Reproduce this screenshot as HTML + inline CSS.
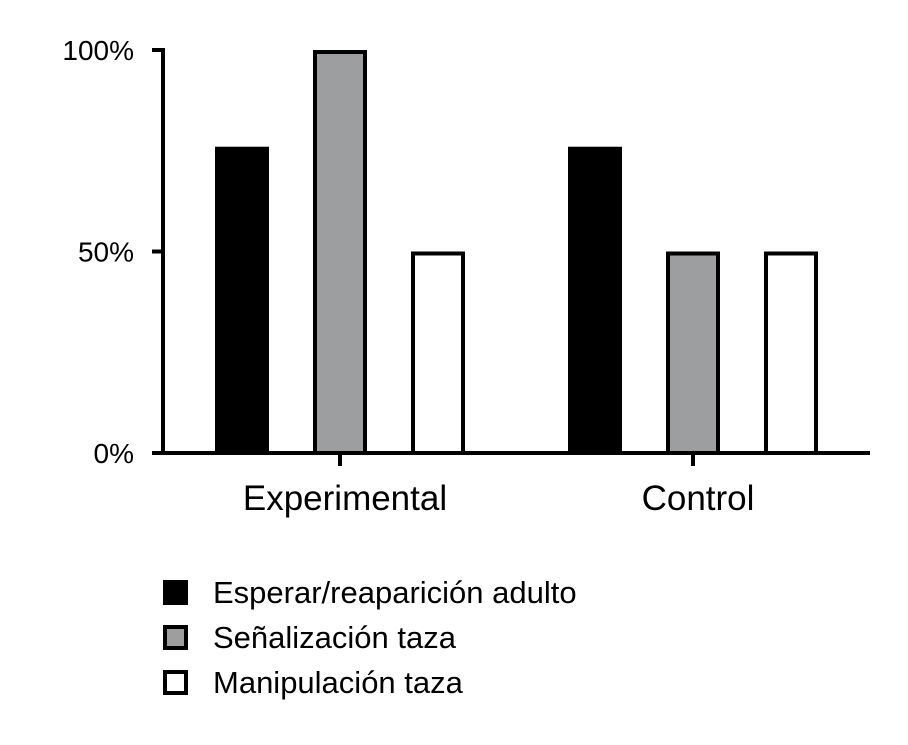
<!DOCTYPE html>
<html><head><meta charset="utf-8"><style>
body{margin:0;background:#fff;}
svg{display:block;font-family:"Liberation Sans",sans-serif;}
</style></head><body>
<svg id="chart" width="908" height="745">
<g id="bars"></g>
<g id="axes"></g>
<g id="legend"></g>
</svg>
<script>
const categories = ["Experimental","Control"];
const seriesNames = ["Esperar/reaparición adulto","Señalización taza","Manipulación taza"];
const seriesA = [76, 76];
const seriesB = [100, 50];
const seriesC = [50, 50];
const yTicks = [0, 50, 100];
const yTickLabels = ["0%","50%","100%"];

const NS="http://www.w3.org/2000/svg";
const fills=["#000","#9d9e9f","#fff"];
const y0=453, y1=50;
function yScale(v){return y0-(v/100)*(y0-y1);}
const catCenters=[340,693];
function xScale(i){return catCenters[0]+i*(catCenters[1]-catCenters[0]);}
function mk(tag,attrs,parent){const e=document.createElementNS(NS,tag);for(const k in attrs)e.setAttribute(k,attrs[k]);parent.appendChild(e);return e;}
const bars=document.getElementById('bars'),axes=document.getElementById('axes'),legend=document.getElementById('legend');
const series=[seriesA,seriesB,seriesC];
series.forEach((s,si)=>{
  s.forEach((v,ci)=>{
    const cx=xScale(ci)+(si-1)*98;
    const top=yScale(v);
    const r=mk('rect',{x:cx-25,y:top+2,width:50,height:y0-top-2,fill:fills[si],stroke:'#000','stroke-width':4},bars);
    
    
  });
});
let l=mk('line',{x1:163,y1:y1-2,x2:163,y2:y0+2,stroke:'#000','stroke-width':4},axes);


l=mk('line',{x1:161,y1:y0,x2:870,y2:y0,stroke:'#000','stroke-width':4},axes);


yTicks.forEach((t,i)=>{
  const y=yScale(t);
  const tk=mk('line',{x1:152,y1:y,x2:165,y2:y,stroke:'#000','stroke-width':4},axes);
  
  
  const tx=mk('text',{x:134,y:y+10,'text-anchor':'end','font-size':28,fill:'#000'},axes);
  tx.textContent=yTickLabels[i];
  
  
});
categories.forEach((c,ci)=>{
  const x=xScale(ci);
  const tk=mk('line',{x1:x,y1:y0,x2:x,y2:466,stroke:'#000','stroke-width':4},axes);
  
  
  const tx=mk('text',{x:x+5,y:510,'text-anchor':'middle','font-size':35,fill:'#000'},axes);
  tx.textContent=c;
  
  
});
const legY=[580,625,670];
seriesNames.forEach((n,i)=>{
  const r=mk('rect',{x:165,y:legY[i]+2,width:21,height:21,fill:fills[i],stroke:'#000','stroke-width':4},legend);
  
  
  const tx=mk('text',{x:213,y:legY[i]+23,'font-size':31,fill:'#000'},legend);
  tx.textContent=n;
  
  
});
</script>
</body></html>
